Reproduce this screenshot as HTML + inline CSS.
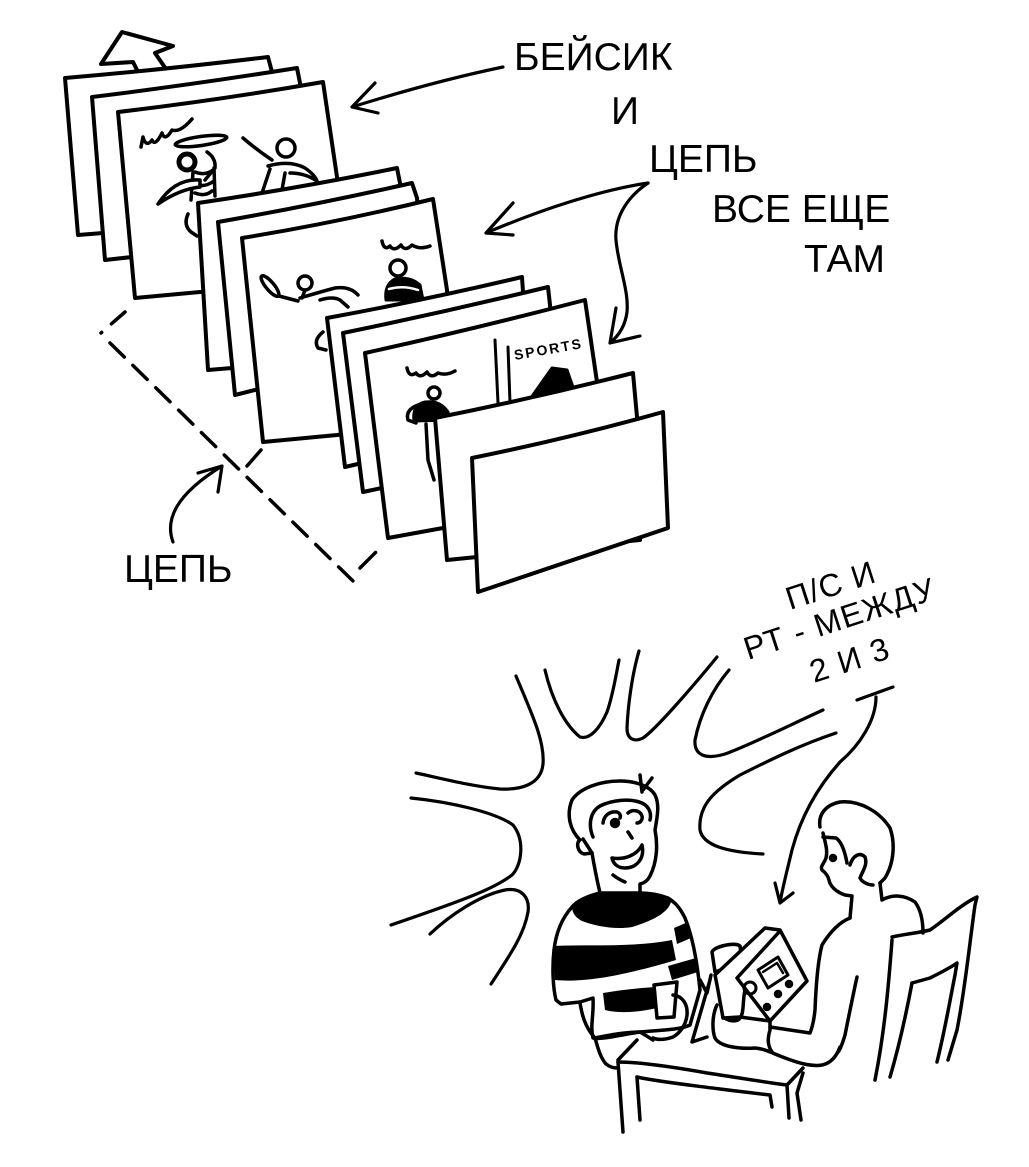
<!DOCTYPE html>
<html>
<head>
<meta charset="utf-8">
<style>
html,body{margin:0;padding:0;background:#fff;}
svg{display:block;}
text{font-family:"Liberation Sans","DejaVu Sans",sans-serif;fill:#000;}
</style>
</head>
<body>
<svg width="1029" height="1167" viewBox="0 0 1029 1167" xmlns="http://www.w3.org/2000/svg">
<rect width="1029" height="1167" fill="#fff"/>

<!-- TEXT -->
<g font-size="39">
  <text x="514" y="70">БЕЙСИК</text>
  <text x="611" y="124">И</text>
  <text x="649" y="172">ЦЕПЬ</text>
  <text x="712" y="222">ВСЕ ЕЩЕ</text>
  <text x="804" y="272">ТАМ</text>
  <text x="124" y="582">ЦЕПЬ</text>
</g>
<g font-size="32" letter-spacing="1.2">
  <text transform="translate(790,610) rotate(-18)">П/С И</text>
  <text transform="translate(748,660) rotate(-18)">РТ - МЕЖДУ</text>
  <text transform="translate(814,683) rotate(-18)">2 И 3</text>
</g>

<g fill="none" stroke="#000" stroke-width="4" stroke-linecap="round" stroke-linejoin="round">

<!-- top arrow outline -->
<path d="M140,76 L133,62 L101,64 L122,32 L173,46 L155,53 L166,69"/>

<!-- GROUP 1 -->
<path fill="#fff" d="M65,78 Q160,70 268,57 L272,72 L285,225 L103,233 L78,235 Z"/>
<path fill="#fff" d="M92,97 Q190,85 297,68 L300,83 L310,245 L132,257 L105,260 Z"/>
<path fill="#fff" d="M118,112 Q220,100 323,82 L337,177 L345,285 L200,292 L135,298 Z"/>
<!-- C figures -->
<path stroke-width="3.5" d="M141,147 L143,137 Q146,148 152,140 Q155,147 162,133 Q165,142 172,130 Q180,133 192,119"/>
<ellipse cx="201" cy="141" rx="26" ry="4.5" transform="rotate(-8 201 141)" stroke-width="3.5"/>
<circle cx="187" cy="162" r="8" stroke-width="5"/>
<path stroke-width="3.5" d="M207,152 Q216,158 215,168 L205,180"/>
<path stroke-width="3.5" d="M195,172 Q205,176 213,170 M192,183 Q203,189 214,181 M195,193 Q205,197 212,191 M193,172 L191,200 M214,168 L215,196"/>
<path stroke-width="3.5" fill="#fff" d="M200,180 Q175,178 158,204 Q180,189 200,187 Z"/>
<path stroke-width="3.5" d="M188,214 Q183,225 191,232 L197,236"/>
<circle cx="286" cy="148" r="9" stroke-width="3.5"/>
<path stroke-width="3.5" d="M272,160 Q257,150 243,138 M268,166 Q290,160 305,168 Q315,175 317,181 Q305,173 290,173 M270,169 L262,193 M285,173 L282,190"/>

<!-- GROUP 2 -->
<path fill="#fff" d="M198,203 Q300,188 397,168 L400,183 L412,330 L232,368 L208,370 Z"/>
<path fill="#fff" d="M218,222 Q315,205 412,183 L417,198 L428,330 L255,390 L235,395 Z"/>
<path fill="#fff" d="M242,238 Q340,222 433,199 L447,290 L455,420 L337,435 L263,442 Z"/>
<!-- F figures -->
<path stroke-width="3.5" d="M382,241 Q384,251 390,246 Q394,252 401,245 Q405,252 412,245 Q420,250 430,246"/>
<circle cx="398" cy="268" r="8" stroke-width="3.5"/>
<path fill="#000" stroke-width="3" d="M386,300 Q384,285 395,279 Q410,276 420,285 L423,300 Z"/>
<path stroke="#fff" stroke-width="2.5" d="M389,289 Q403,285 418,290"/>
<ellipse cx="270" cy="286" rx="13" ry="4" transform="rotate(50 270 286)" stroke-width="3.5"/>
<path stroke-width="3.5" d="M279,296 L298,301"/>
<circle cx="305" cy="283" r="7" stroke-width="3.5"/>
<path stroke-width="3.5" d="M305,290 L302,298 M300,298 Q320,292 335,288 Q350,286 358,295 M320,300 Q333,296 340,300 L348,307"/>
<path stroke-width="3.5" d="M323,332 Q313,340 318,348 L326,350"/>

<!-- GROUP 3 -->
<path fill="#fff" d="M327,318 Q425,300 522,277 L523,292 L530,420 L362,463 L345,467 Z"/>
<path fill="#fff" d="M343,333 Q445,312 548,287 L550,305 L560,440 L382,488 L363,492 Z"/>
<path fill="#fff" d="M365,353 Q470,330 585,300 L597,382 L605,500 L443,528 L388,538 Z"/>
<path stroke-width="3.5" d="M407,368 Q409,378 416,373 Q420,379 427,372 Q431,379 438,373 Q446,376 455,371"/>
<circle cx="434" cy="393" r="6" stroke-width="3.5"/>
<path fill="#000" stroke-width="3" d="M414,421 Q412,405 425,402 Q440,400 448,412 L450,420 Z"/>
<path stroke-width="3.5" d="M418,405 Q405,410 408,420 L416,423 M426,424 L428,460 L434,480"/>
<path stroke-width="3" d="M495,340 L498,403 M508,347 L510,403"/>
<text transform="translate(515,360) rotate(-10)" font-size="14" font-weight="bold" letter-spacing="2" stroke="none">SPORTS</text>
<path fill="#000" stroke-width="3" d="M528,402 L552,368 L567,370 L574,390 Z"/>

<!-- GROUP 4 -->
<path fill="#fff" d="M435,418 Q535,398 633,373 L637,417 L640,540 L477,557 L447,560 Z"/>
<path fill="#fff" d="M472,458 Q570,438 663,412 L668,528 L478,592 Z"/>

<!-- dashed lines -->
<path stroke-width="3.5" stroke-dasharray="18 13" d="M125,312 L101,333"/>
<path stroke-width="3.5" stroke-dasharray="20 12" d="M110,343 L354,582"/>
<path stroke-width="3.5" stroke-dasharray="22 12" d="M360,568 L381,547"/>
<path stroke-width="3.5" d="M247,466 L261,450"/>

<!-- arrows from text -->
<g stroke-width="3.2">
<path d="M173,542 C165,520 175,495 222,466 M198,473 L222,466 L218,492"/>
<path d="M503,67 C450,78 400,92 352,107 M375,83 L352,107 L378,113"/>
<path d="M648,183 C600,190 540,210 486,233 M513,203 L486,233 L513,235"/>
<path d="M648,183 C630,195 614,215 616,240 C618,265 629,290 627,312 C625,328 616,338 610,343 M616,308 L610,343 L640,336"/>
</g>

<!-- BURST -->
<g stroke-width="3.2">
<path d="M516,676 C530,710 545,740 543,764 C541,785 520,790 500,789 C470,786 440,778 416,773"/>
<path d="M411,798 C450,802 495,812 513,825 C525,840 522,865 512,875 C495,888 470,898 391,925"/>
<path d="M430,934 C450,915 480,895 505,890 C522,887 530,898 528,912 C524,935 510,955 491,984"/>
<path d="M545,670 C552,700 565,725 580,737 C590,740 600,728 607,712 C613,695 616,675 619,660"/>
<path d="M639,651 C632,675 628,705 627,728 C627,740 635,742 643,738 C655,730 690,690 717,657"/>
<path d="M729,670 C712,690 700,715 695,740 C694,755 705,760 725,754 C750,745 790,725 823,710"/>
<path d="M836,733 C800,745 770,760 740,775 C715,790 698,805 700,830 C703,845 725,852 763,854"/>
<!-- bottom arrow -->
<path d="M857,700 L893,687 M876,697 C876,720 860,745 840,762 C815,790 800,820 792,850 C786,875 782,890 780,903 M775,883 L780,903 L793,893"/>
</g>

<!-- MAN 1 -->
<g stroke-width="3.5">
<path fill="#fff" d="M600,893 C588,896 578,900 572,907 C562,918 556,933 554,950 C552,968 553,988 556,1000 L561,1004 L580,1002 L593,998 C594,1015 590,1025 593,1038 C600,1040 620,1035 640,1032 C660,1030 680,1030 690,1025 L700,990 C697,960 692,935 685,918 C680,908 676,903 668,898 C660,895 650,893 640,893 Z"/>
<path fill="#000" stroke="none" d="M572,907 C580,898 590,894 600,893 L640,893 C655,894 665,897 671,902 C668,912 655,920 632,927 C615,930 595,926 582,921 C576,918 572,913 572,907 Z"/>
<path fill="#000" stroke="none" d="M674,928 L688,922 L691,938 L677,944 Z"/>
<path fill="#000" stroke="none" d="M553,946 C590,944 630,948 672,940 L676,960 C650,968 620,975 600,978 C580,981 565,981 555,980 Z"/>
<path fill="#000" stroke="none" d="M668,966 L696,958 L698,972 L672,980 Z"/>
<path fill="#000" stroke="none" d="M603,993 C620,990 640,988 655,987 L657,1008 C640,1012 620,1014 605,1010 Z"/>
<path fill="#fff" d="M654,985 L677,982 L674,1017 L657,1018 Z"/>
<path d="M673,995 C683,996 688,1005 687,1015 C686,1025 680,1033 673,1037 C665,1040 657,1040 653,1038"/>
<path d="M580,1003 C582,1015 585,1027 595,1038 C598,1048 600,1057 606,1064 C610,1067 613,1068 618,1068 M595,1038 C610,1035 625,1032 640,1032 C645,1035 650,1038 653,1040 M618,1060 L637,1040"/>
<path d="M700,980 L707,993 L711,975 M710,980 L692,1042 L707,1037"/>
<!-- head -->
<path fill="#fff" d="M592,853 C594,865 597,880 600,893 L640,893 L640,884 C645,883 648,880 650,876 C657,862 658,845 655,830 C657,818 660,805 655,795 C650,786 635,781 620,781 C600,781 580,788 572,800 C566,815 570,830 580,840 C576,842 577,852 584,854 Z"/>
<path d="M593,837 C588,825 590,812 600,806 C612,800 630,798 642,803 C648,806 652,812 650,820"/>
<path d="M583,839 L592,853"/>
<path d="M640,775 L642,792 M652,778 L643,790"/>
<path d="M603,823 C604,815 610,811 617,812 C620,813 621,816 620,818 M628,813 C632,809 640,810 642,816 C643,820 640,823 637,823 M628,832 L632,838"/>
<circle cx="615" cy="823" r="3.5" fill="#000"/>
<path fill="#fff" d="M612,858 C625,860 637,855 642,845 C645,858 637,868 625,868 C617,868 613,863 612,858 Z"/>
<path d="M613,875 C617,878 620,880 625,882"/>
</g>

<!-- MAN 2 -->
<g stroke-width="3.5">
<path d="M820,827 C818,815 825,805 840,802 C860,800 880,812 890,828 C896,845 893,865 885,878 L880,883"/>
<path d="M823,833 C825,842 828,850 826,858 C824,864 820,866 822,870 C826,873 828,876 829,880 C830,886 836,892 845,895 L852,896 L850,918"/>
<path d="M823,837 L836,838 C842,842 845,852 847,863"/>
<path d="M850,865 C853,855 860,852 865,857 C868,865 862,872 860,878 C862,882 868,885 873,885"/>
<circle cx="833" cy="858" r="2.5" fill="#000"/>
<path d="M880,883 L882,900 C892,894 905,895 915,902 C921,910 923,920 923,933"/>
<path d="M850,918 C840,922 830,932 822,945 C818,960 816,985 815,1010 C814,1020 812,1028 810,1033 L770,1027"/>
<path d="M857,977 C852,1000 848,1020 845,1035 C842,1045 840,1050 838,1052"/>
<!-- chair -->
<path d="M892,937 C905,934 918,933 930,930 C945,920 960,905 977,897 L975,905 C970,940 965,990 957,1030 L948,1060"/>
<path d="M912,983 L930,978 C940,973 950,968 957,963 L955,975 C950,1000 945,1030 937,1062"/>
<path d="M892,940 C889,980 885,1030 875,1080 M912,983 C905,1020 898,1050 890,1077"/>
<!-- radio -->
<path fill="#fff" d="M712,952 C715,946 735,942 740,946 L742,962 L715,972 Z"/>
<path fill="#fff" d="M715,975 L765,928 L780,930 L807,981 L770,1021 L740,1017 L723,1018 L717,985 Z"/>
<path d="M737,978 L780,931 M737,978 L770,1021"/>
<path d="M758,970 L778,957 L788,975 L768,988 Z" stroke-width="3"/>
<path d="M763,972 L777,963 L783,973" stroke-width="2.5"/>
<circle cx="750" cy="988" r="6" stroke-width="3"/>
<circle cx="778" cy="994" r="2.5" fill="#000"/>
<circle cx="789" cy="984" r="2.5" fill="#000"/>
<circle cx="767" cy="1007" r="2.5" fill="#000"/>
<path d="M745,990 C742,1003 745,1015 738,1020 C733,1022 727,1020 723,1017"/>
<path d="M717,1005 C712,1015 712,1030 715,1038 C720,1047 740,1049 755,1048 C765,1049 770,1052 780,1056 C795,1062 810,1067 822,1065 C832,1063 837,1055 840,1047"/>
<path d="M770,1021 L770,1030 C767,1040 768,1046 772,1052"/>
<!-- table -->
<path d="M618,1062 C640,1062 673,1067 707,1073 C740,1078 770,1083 787,1085 L803,1068"/>
<path d="M618,1062 L623,1132 M637,1077 L640,1120"/>
<path d="M637,1077 C660,1082 690,1085 720,1089 C745,1092 760,1094 770,1095 L772,1107"/>
<path d="M787,1085 L789,1118 M803,1073 L797,1093 L801,1120"/>
</g>

</g>
</svg>
</body>
</html>
